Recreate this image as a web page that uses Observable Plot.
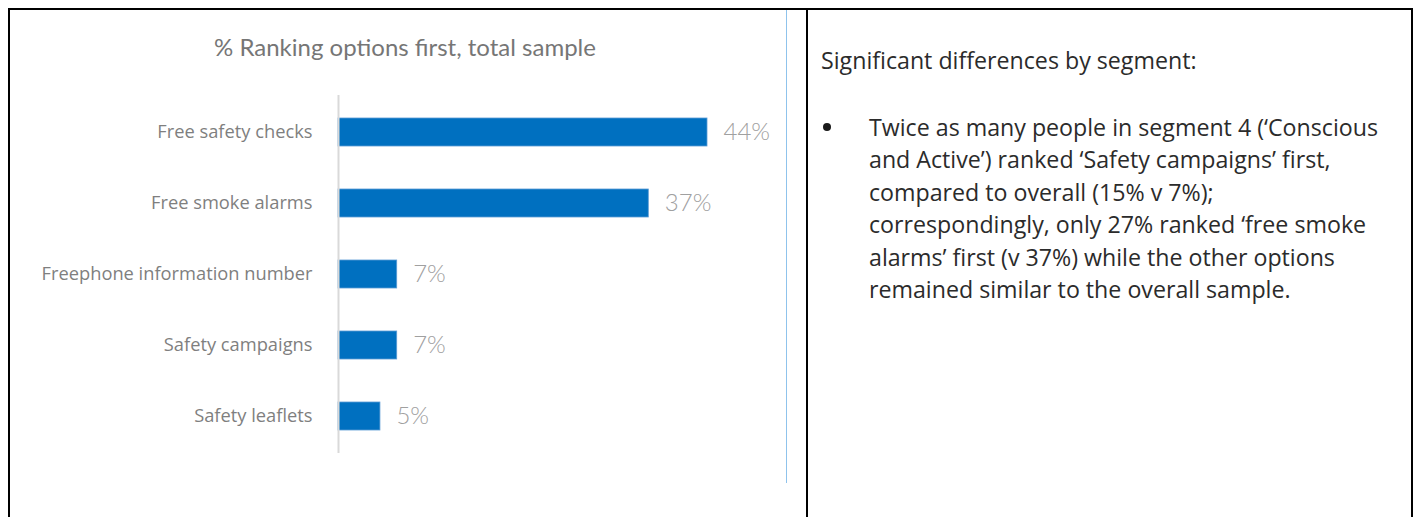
<!DOCTYPE html>
<html>
<head>
<meta charset="utf-8">
<script src="https://cdn.jsdelivr.net/npm/d3@7"></script>
<script src="https://cdn.jsdelivr.net/npm/@observablehq/plot@0.6"></script>
<style>
  html, body { margin: 0; padding: 0; background: #fff; }
  body { width: 1416px; height: 517px; position: relative; overflow: hidden; font-family: Lato, "Open Sans", sans-serif; }
  .line { position: absolute; background: #000; }
  #chartbox { position: absolute; left: 10px; top: 10px; width: 776px; height: 473px; border-right: 1px solid #8fc3ec; }
  #title { position: absolute; left: 10px; width: 790px; top: 32px; text-align: center; font-size: 24px; color: #767676; font-weight: 400; }
  #plot { position: absolute; left: 0; top: 80px; }
  #notes { position: absolute; left: 821px; top: 44px; width: 590px; color: #2b2b2b; font-size: 23.2px; font-family: "Open Sans", sans-serif; }
  #notes .head { line-height: 32px; }
  #notes .bullet { position: relative; margin-top: 35px; padding-left: 48px; line-height: 32.4px; }
  #notes .bullet::before { content: ""; position: absolute; left: 2px; top: 12px; width: 8px; height: 8px; border-radius: 50%; background: #1a1a1a; }
</style>
</head>
<body>
<div class="line" style="left:8px; top:8px; width:1405px; height:2px;"></div>
<div class="line" style="left:8px; top:8px; width:2px; height:509px;"></div>
<div class="line" style="left:806px; top:8px; width:2px; height:509px;"></div>
<div class="line" style="left:1411px; top:8px; width:2px; height:509px;"></div>
<div id="chartbox"></div>
<div id="title">% Ranking options first, total sample</div>
<div id="plot"></div>
<div id="notes">
  <div class="head">Significant differences by segment:</div>
  <div class="bullet">Twice as many people in segment 4 (‘Conscious<br>and Active’) ranked ‘Safety campaigns’ first,<br>compared to overall (15% v 7%);<br>correspondingly, only 27% ranked ‘free smoke<br>alarms’ first (v 37%) while the other options<br>remained similar to the overall sample.</div>
</div>
<script>
const categories = ["Free safety checks", "Free smoke alarms", "Freephone information number", "Safety campaigns", "Safety leaflets"];
const values = [44, 37, 7, 7, 5];
const valueLabels = ["44%", "37%", "7%", "7%", "5%"];

const data = categories.map((c, i) => ({category: c, value: values[i], label: valueLabels[i]}));

const chart = Plot.plot({
  width: 787,
  height: 400,
  marginTop: 15,
  marginBottom: 27,
  marginLeft: 338,
  marginRight: 80,
  style: {fontFamily: "Lato, 'Open Sans', sans-serif", background: "transparent", overflow: "visible"},
  x: {domain: [0, 44], axis: null},
  y: {domain: categories, paddingInner: 0.6, paddingOuter: 0.3, label: null},
  marks: [
    Plot.barX(data, {x: "value", y: "category", fill: "#0070c0", stroke: "#5b9bd5", strokeWidth: 0.8}),
    Plot.ruleX([0], {stroke: "#d9d9d9", strokeWidth: 2}),
    Plot.axisY({tickSize: 0, tickPadding: 26, fontSize: 18.3, fill: "#7f7f7f", fontFamily: "'Open Sans', sans-serif", label: null}),
    Plot.text(data, {x: "value", y: "category", text: "label", textAnchor: "start", dx: 16, fontSize: 24, fill: "#a0a0a0", fontWeight: 300})
  ]
});
document.getElementById("plot").appendChild(chart);
</script>
</body>
</html>
